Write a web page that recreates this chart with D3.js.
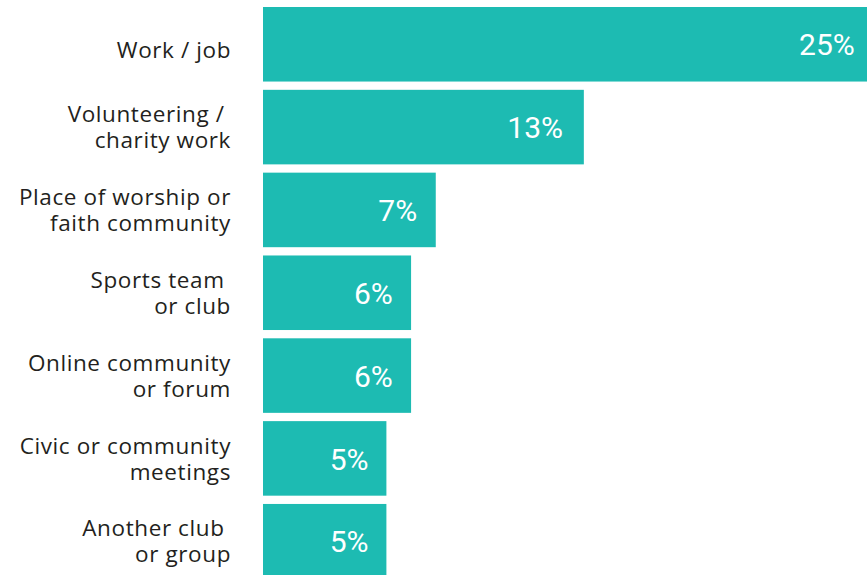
<!DOCTYPE html>
<html>
<head>
<meta charset="utf-8">
<script src="https://cdn.jsdelivr.net/npm/d3@7"></script>
<style>
  html, body { margin: 0; padding: 0; background: #fff; overflow: hidden; }
  svg { display: block; }
</style>
</head>
<body>
<div id="chart"></div>
<script>
// Where people find community: share of respondents by setting
const categories = [
  ["Work / job"],
  ["Volunteering / ", "charity work"],
  ["Place of worship or", "faith community"],
  ["Sports team ", "or club"],
  ["Online community", "or forum"],
  ["Civic or community", "meetings"],
  ["Another club ", "or group"]
];
const values = [25, 13, 7, 6, 6, 5, 5];
const valueLabels = ["25%", "13%", "7%", "6%", "6%", "5%", "5%"];

const width = 867, height = 575;
const barColor = "#1dbbb2";
const textColor = "#231f20";

const svg = d3.select("#chart").append("svg")
  .attr("width", width)
  .attr("height", height);

const keys = categories.map((c, i) => "c" + i);

const x = d3.scaleLinear()
  .domain([0, 25])
  .range([263, 880]);

const y = d3.scaleBand()
  .domain(keys)
  .range([7, 578.5])
  .paddingInner(0.1)
  .paddingOuter(0);

// bars
svg.append("g")
  .selectAll("rect")
  .data(values)
  .join("rect")
  .attr("x", x(0))
  .attr("y", (d, i) => y(keys[i]))
  .attr("width", d => x(d) - x(0))
  .attr("height", y.bandwidth())
  .attr("fill", barColor);

// value labels inside bar ends; inset grows slightly with bar length
svg.append("g")
  .selectAll("text")
  .data(values)
  .join("text")
  .attr("x", d => x(d) - (16 + 0.015 * (x(d) - x(0))))
  .attr("y", (d, i) => y(keys[i]) + y.bandwidth() / 2)
  .attr("dy", "0.37em")
  .attr("text-anchor", "end")
  .attr("fill", "#fff")
  .style("font-family", "Roboto, sans-serif")
  .style("font-size", "30px")
  .text((d, i) => valueLabels[i]);

// category labels, right aligned against the bars
const lineH = 26;
const labelGroup = svg.append("g")
  .attr("fill", textColor)
  .style("font-family", "'Open Sans', sans-serif")
  .style("font-size", "22.5px")
  .style("letter-spacing", "0.6px");

categories.forEach((lines, i) => {
  const cy = y(keys[i]) + y.bandwidth() / 2;
  // single-line labels sit a little below the bar centre
  const first = lines.length === 1 ? cy + 6 : cy - (lines.length - 1) * lineH / 2;
  lines.forEach((line, j) => {
    labelGroup.append("text")
      .attr("xml:space", "preserve")
      .style("white-space", "pre")
      .attr("text-anchor", "end")
      .attr("x", 231)
      .attr("y", first + j * lineH)
      .attr("dy", "0.36em")
      .text(line);
  });
});
</script>
</body>
</html>
